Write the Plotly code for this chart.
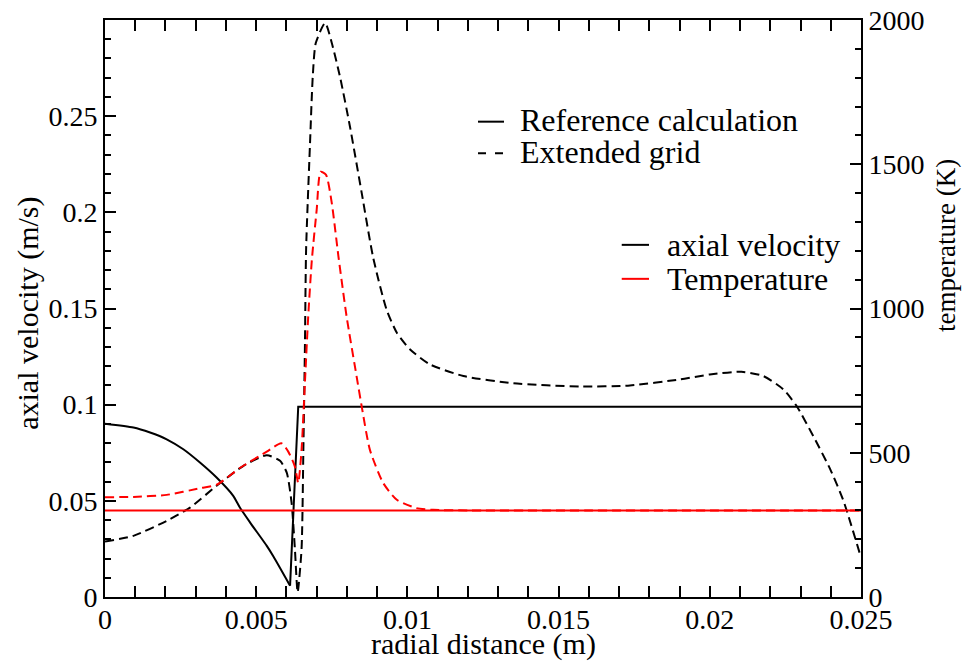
import plotly.graph_objects as go

# Radial profiles: reference calculation (solid) vs. extended grid (dashed)
r_ref_vel = [0.0, 0.00094, 0.00149, 0.00204, 0.00259, 0.00314, 0.00369, 0.00424,
             0.00446, 0.0048, 0.00535, 0.00557, 0.00612, 0.00639, 0.025]
v_ref = [0.0901, 0.0881, 0.0855, 0.0820, 0.0768, 0.0699, 0.0621, 0.0526,
         0.0465, 0.0387, 0.0266, 0.0211, 0.0059, 0.0989, 0.0989]

r_ref_temp = [0.0, 0.025]
T_ref = [300, 300]

r_ext_vel = [0.0, 0.00094, 0.00204, 0.00281, 0.00369, 0.00457, 0.00535, 0.00579,
             0.00601, 0.00617, 0.00628, 0.00637, 0.0065, 0.00656, 0.00661, 0.00665,
             0.00678, 0.00687, 0.00697, 0.00728, 0.0075, 0.00777, 0.0081, 0.00849,
             0.00887, 0.00931, 0.00965, 0.01009, 0.01075, 0.01185, 0.0135, 0.01571,
             0.01736, 0.0190, 0.0200, 0.02105, 0.02177, 0.02243, 0.02287, 0.02342,
             0.02398, 0.02442, 0.025]
v_ext = [0.0289, 0.0318, 0.0396, 0.0465, 0.0578, 0.0681, 0.0737, 0.0708,
         0.0647, 0.0491, 0.0249, 0.0024, 0.025, 0.0768, 0.1287, 0.1806,
         0.236, 0.2706, 0.288, 0.2985, 0.288, 0.2706, 0.2446, 0.210,
         0.1763, 0.1495, 0.1374, 0.1287, 0.1209, 0.1149, 0.1111, 0.1094,
         0.1100, 0.1131, 0.1157, 0.1171, 0.1149, 0.1080, 0.0993, 0.0837,
         0.0665, 0.0500, 0.0205]

r_ext_temp = [0.0, 0.00094, 0.00204, 0.00314, 0.00369, 0.00446, 0.00535, 0.00583,
              0.00606, 0.00628, 0.00639, 0.0065, 0.00661, 0.00672, 0.00684, 0.007,
              0.00713, 0.00731, 0.0075, 0.00772, 0.00799, 0.00832, 0.00849, 0.00876,
              0.0092, 0.00965, 0.0103, 0.01085, 0.012, 0.025]
T_ext = [346, 347, 354, 377, 389, 447, 504, 533,
         504, 452, 395, 510, 741, 972, 1168, 1342,
         1474, 1463, 1365, 1180, 972, 765, 660, 510,
         395, 337, 308, 302, 300, 300]

x_ticks = [0, 0.005, 0.01, 0.015, 0.02, 0.025]
x_labels = ["0", "0.005", "0.01", "0.015", "0.02", "0.025"]
v_ticks = [0, 0.05, 0.1, 0.15, 0.2, 0.25]
v_labels = ["0", "0.05", "0.1", "0.15", "0.2", "0.25"]
T_ticks = [0, 500, 1000, 1500, 2000]
T_labels = ["0", "500", "1000", "1500", "2000"]

FONT = "Liberation Serif"
DASH = "9px,5px"
SMOOTH = 0.6

# the reference velocity is a smooth profile up to its minimum, then a step
n_curve = 13

fig = go.Figure()
fig.add_trace(go.Scatter(x=r_ext_vel, y=v_ext, mode="lines", yaxis="y",
                         line=dict(color="black", width=2, dash=DASH,
                                   shape="spline", smoothing=SMOOTH)))
fig.add_trace(go.Scatter(x=r_ext_temp, y=T_ext, mode="lines", yaxis="y2",
                         line=dict(color="red", width=2, dash=DASH,
                                   shape="spline", smoothing=SMOOTH)))
fig.add_trace(go.Scatter(x=r_ref_vel[:n_curve], y=v_ref[:n_curve], mode="lines", yaxis="y",
                         line=dict(color="black", width=2, shape="spline", smoothing=SMOOTH)))
fig.add_trace(go.Scatter(x=r_ref_vel[n_curve - 1:], y=v_ref[n_curve - 1:], mode="lines",
                         yaxis="y", line=dict(color="black", width=2)))
fig.add_trace(go.Scatter(x=r_ref_temp, y=T_ref, mode="lines", yaxis="y2",
                         line=dict(color="red", width=2)))

axis_common = dict(showgrid=False, zeroline=False, showline=True, linewidth=2,
                   linecolor="black", ticks="inside", ticklen=11, tickwidth=1.5,
                   tickcolor="black", automargin=False,
                   tickfont=dict(family=FONT, size=28, color="black"))

fig.update_layout(
    width=962, height=664,
    margin=dict(l=105, r=101, t=20, b=67),
    showlegend=False,
    plot_bgcolor="white", paper_bgcolor="white",
    font=dict(family=FONT, size=28, color="black"),
    xaxis=dict(range=[0, 0.025], tickmode="array", tickvals=x_ticks, ticktext=x_labels,
               mirror="allticks", ticklabelstandoff=-4,
               minor=dict(ticks="inside", ticklen=6, dtick=0.001, tick0=0, tickcolor="black"),
               **axis_common),
    yaxis=dict(range=[0, 0.3], tickmode="array", tickvals=v_ticks, ticktext=v_labels,
               minor=dict(ticks="inside", ticklen=6, dtick=0.01, tick0=0, tickcolor="black"),
               **axis_common),
    yaxis2=dict(range=[0, 2000], overlaying="y", side="right", tickmode="array",
                tickvals=T_ticks, ticktext=T_labels,
                minor=dict(ticks="inside", ticklen=6, dtick=100, tick0=0, tickcolor="black"),
                **axis_common),
)

# Axis titles
titles = [
    (0.5, -0.0815, "radial distance (m)", 0, 30),
    (-0.1019, 0.4925, "axial velocity (m/s)", -90, 30),
    (1.1124, 0.610, "temperature (K)", -90, 27),
]
for x, y, text, angle, size in titles:
    fig.add_annotation(xref="paper", yref="paper", x=x, y=y, text=text, showarrow=False,
                       textangle=angle, xanchor="center", yanchor="middle",
                       font=dict(family=FONT, size=size, color="black"))

# Hand-placed key entries
key_lines = [
    (0.4934, 0.5278, 0.8238, "black", "solid"),
    (0.4934, 0.5278, 0.7690, "black", "8px,9px"),
    (0.6835, 0.7196, 0.6103, "black", "solid"),
    (0.6835, 0.7196, 0.5514, "red", "solid"),
]
for x0, x1, y, color, dash in key_lines:
    fig.add_shape(type="line", xref="paper", yref="paper", x0=x0, x1=x1, y0=y, y1=y,
                  line=dict(color=color, width=2, dash=dash))

key_texts = [
    (0.5463, 0.8260, "Reference calculation"),
    (0.5463, 0.7710, "Extended grid"),
    (0.7407, 0.6103, "axial velocity"),
    (0.7407, 0.5514, "Temperature"),
]
for x, y, text in key_texts:
    fig.add_annotation(xref="paper", yref="paper", x=x, y=y, text=text, showarrow=False,
                       xanchor="left", yanchor="middle",
                       font=dict(family=FONT, size=32, color="black"))

fig.write_html("out.html")
